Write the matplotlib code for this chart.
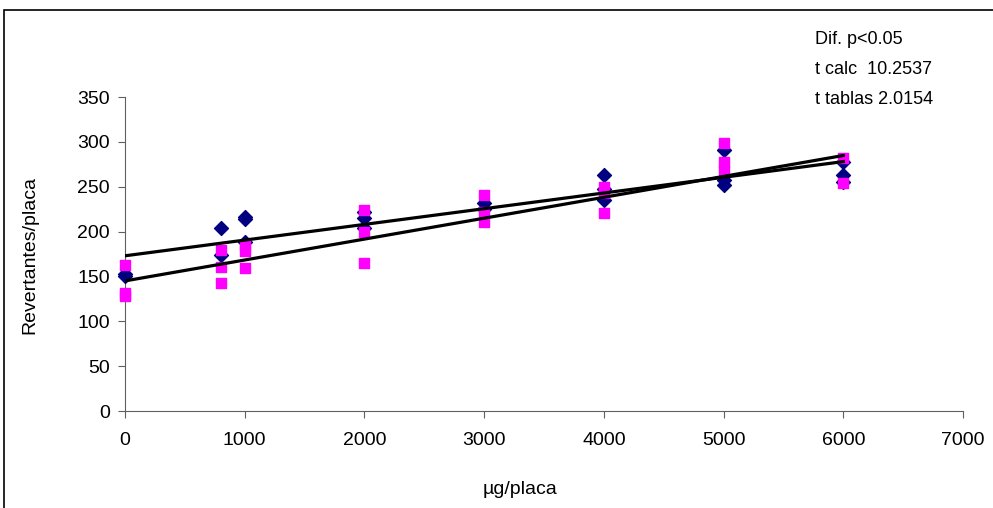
import numpy as np
import matplotlib
matplotlib.use('Agg')
import matplotlib.pyplot as plt
from matplotlib.patches import Rectangle

plt.rcParams['font.family'] = ['Liberation Sans', 'DejaVu Sans']

# blue diamonds
dose_a = [0, 0, 800, 800, 1000, 1000, 1000, 2000, 2000, 2000, 3000, 3000,
          4000, 4000, 4000, 5000, 5000, 5000, 6000, 6000, 6000]
rev_a = [153, 150, 204, 174, 216, 214, 188, 222, 215, 204, 232, 225,
         263, 248, 235, 291, 258, 252, 278, 263, 255]

# pink squares
dose_b = [0, 0, 0, 800, 800, 800, 1000, 1000, 1000, 2000, 2000, 2000,
          3000, 3000, 3000, 4000, 4000, 4000, 5000, 5000, 5000, 6000, 6000]
rev_b = [163, 131, 128, 179, 160, 143, 185, 178, 159, 224, 200, 165,
         241, 222, 211, 250, 243, 221, 299, 278, 268, 282, 254]

# trendlines as shown in the chart (intercept, slope)
trend_a = (173, 0.0175)
trend_b = (145, 0.0233)
trend_x = [0, 6000]

stats_txt = ['Dif. p<0.05', 't calc  10.2537', 't tablas 2.0154']

fig = plt.figure(figsize=(9.93, 5.08), dpi=100)
ax = fig.add_axes([125/993, 1-411/508, 838/993, 314/508])

ax.scatter(dose_a, rev_a, marker='D', s=50, color='#000080', zorder=3, clip_on=False)
ax.scatter(dose_b, rev_b, marker='s', s=60, color='#FF00FF', zorder=3, clip_on=False)

xs = np.array(trend_x)
for b, m in [trend_a, trend_b]:
    ax.plot(xs, m*xs + b, color='black', lw=2.3, zorder=4)

ax.set_xlim(0, 7000)
ax.set_ylim(0, 350)
ax.set_xticks(range(0, 7001, 1000))
ax.set_yticks(range(0, 351, 50))
ax.spines['top'].set_visible(False)
ax.spines['right'].set_visible(False)
for s in ['left', 'bottom']:
    ax.spines[s].set_color('#606060')
ax.tick_params(direction='out', length=5, color='#606060', labelsize=14, pad=6)
ax.tick_params(axis='x', pad=10)

fig.text(30/993, 1-255/508, 'Revertantes/placa', rotation=90, fontsize=14,
         ha='center', va='center')
fig.text(520/993, 1-490/508, 'µg/placa', fontsize=14, ha='center', va='center')

for i, t in enumerate(stats_txt):
    fig.text(815/993, 1-(40+30*i)/508, t, fontsize=13, ha='left', va='center')

fig.patches.append(Rectangle((4/993, -0.2), 1.2, 1.2 - 10/508,
                             transform=fig.transFigure, fill=False,
                             edgecolor='black', lw=1.2))

fig.savefig('out.png', dpi=100)
